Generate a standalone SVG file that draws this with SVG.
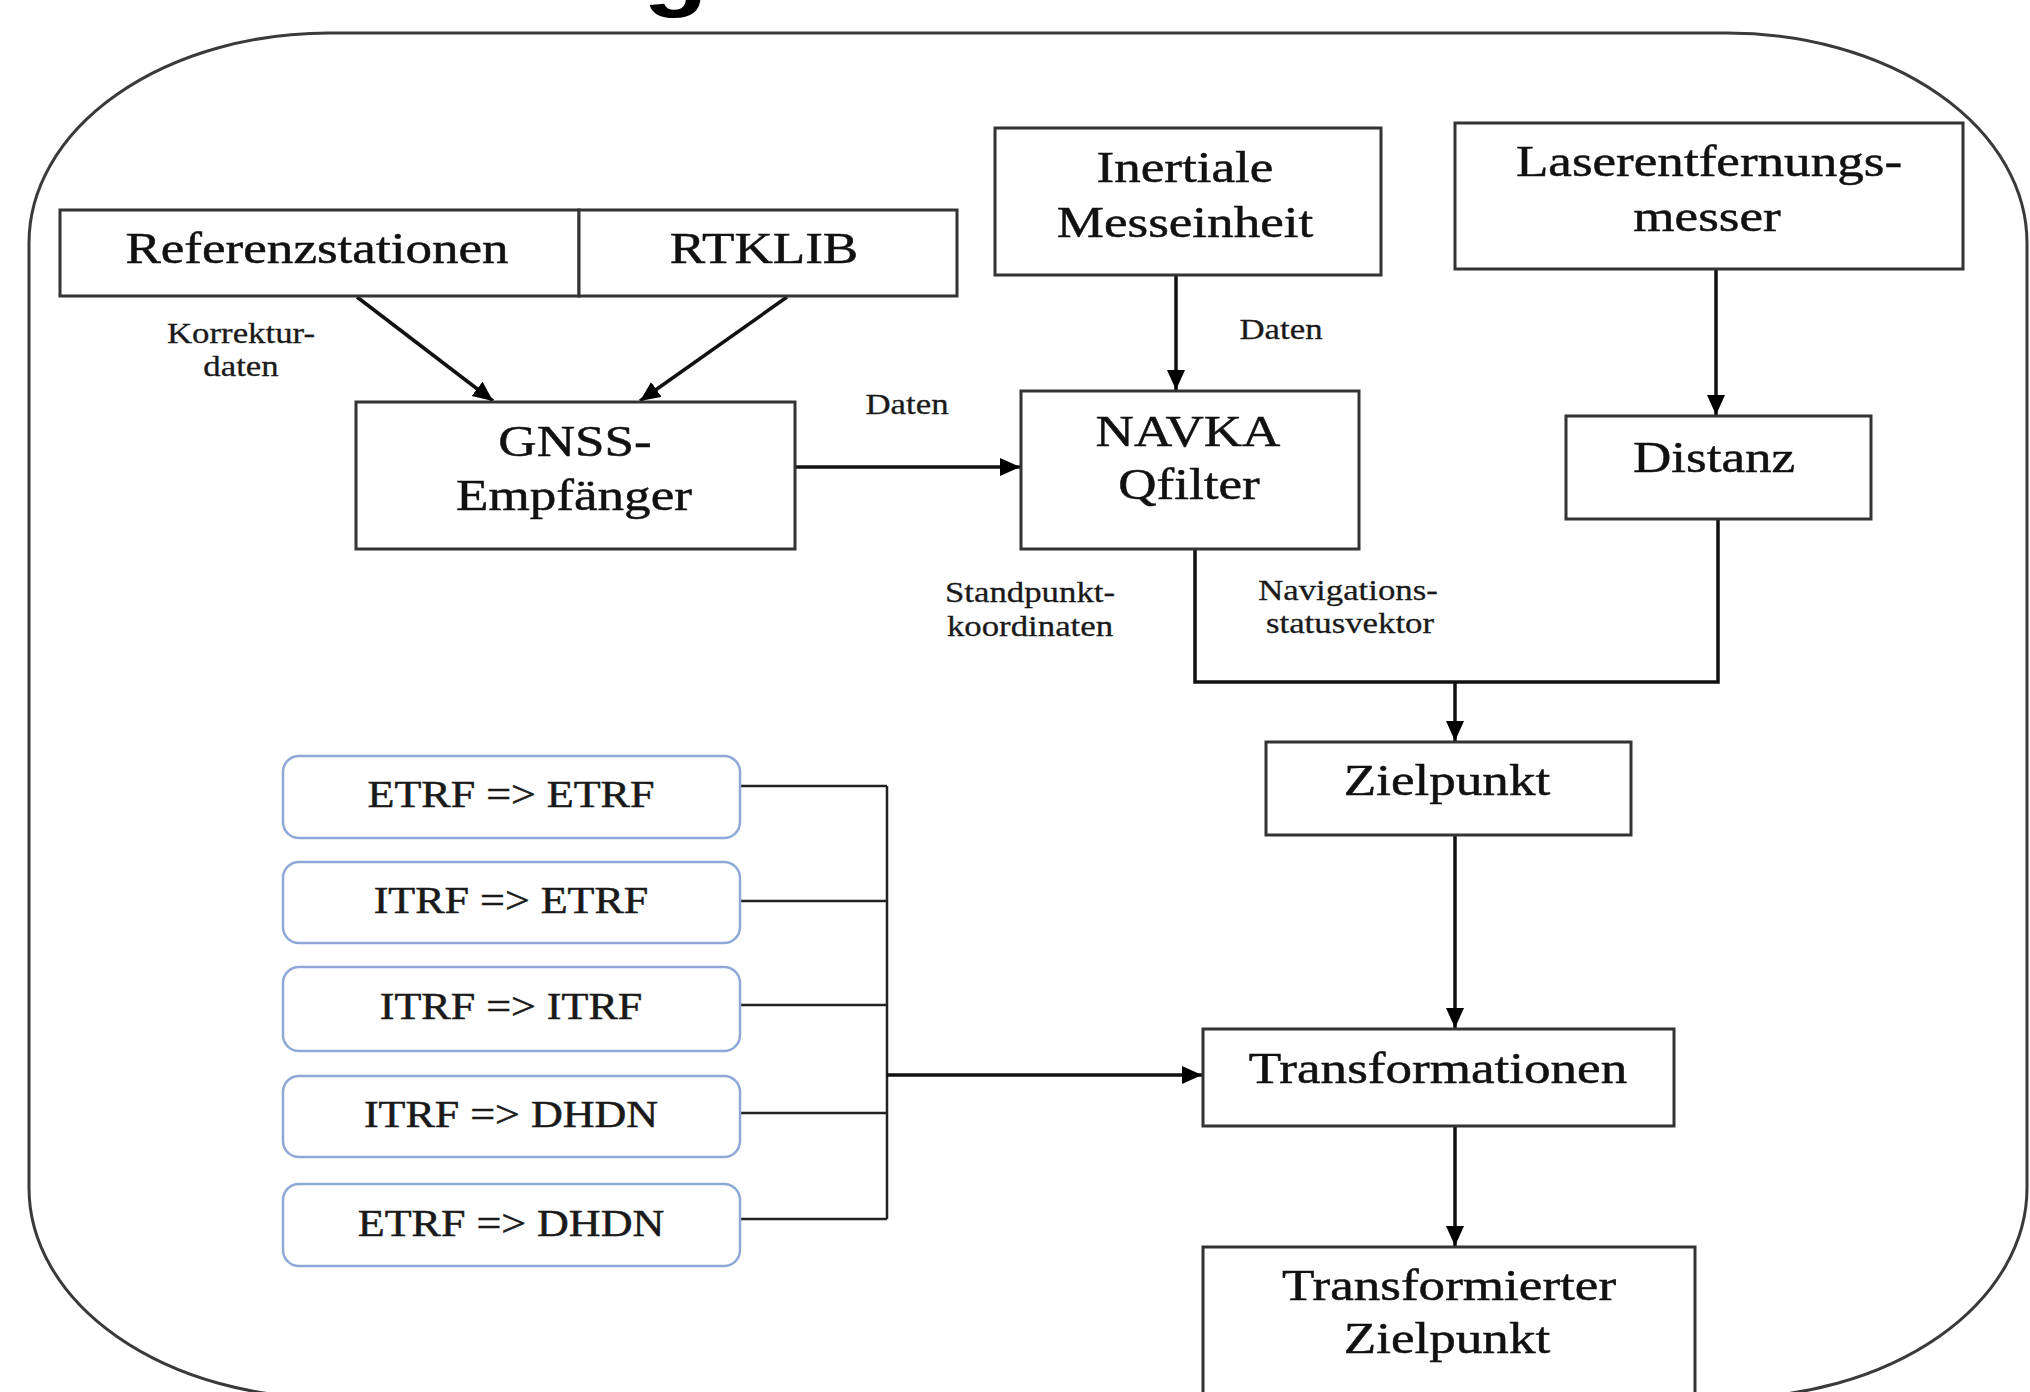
<svg xmlns="http://www.w3.org/2000/svg" width="2030" height="1392" viewBox="0 0 2030 1392">
<style>
.bx{fill:#fff;stroke:#333;stroke-width:3}
.bb{fill:#fff;stroke:#8ea9d8;stroke-width:2.5}
.t{font-family:"Liberation Serif","Times New Roman",serif;font-size:45px;fill:#111;stroke:#111;stroke-width:0.5;text-anchor:middle}
.tb{font-family:"Liberation Serif","Times New Roman",serif;font-size:37px;fill:#1a1a1a;stroke:#1a1a1a;stroke-width:0.5;text-anchor:middle}
.ts{font-family:"Liberation Serif","Times New Roman",serif;font-size:30px;fill:#1a1a1a;stroke:#1a1a1a;stroke-width:0.3;text-anchor:middle}
.c{fill:none;stroke:#111;stroke-width:3.5}
.cl{fill:none;stroke:#222;stroke-width:2.5}
</style>
<defs>
<marker id="ah" markerUnits="userSpaceOnUse" markerWidth="22" markerHeight="20" refX="20" refY="9" orient="auto">
<path d="M0,0 L20,9 L0,18 z" fill="#000"/>
</marker>
</defs>
<rect width="2030" height="1392" fill="#fff"/>
<text x="0" y="0" transform="translate(643,-1) scale(1.18,1)" style="font-family:'Liberation Sans',Arial,sans-serif;font-weight:bold;font-size:90px;fill:#000">g</text>
<rect x="29" y="33" width="1998" height="1365" rx="300" ry="210" fill="none" stroke="#3a3a3a" stroke-width="3"/>

<g id="connectors">
<line class="c" x1="357" y1="297" x2="493" y2="401" marker-end="url(#ah)"/>
<line class="c" x1="787" y1="297" x2="640" y2="401" marker-end="url(#ah)"/>
<line class="c" x1="795" y1="467" x2="1020" y2="467" marker-end="url(#ah)"/>
<line class="c" x1="1176" y1="275" x2="1176" y2="390" marker-end="url(#ah)"/>
<line class="c" x1="1716" y1="269" x2="1716" y2="415" marker-end="url(#ah)"/>
<polyline class="c" points="1195,549 1195,682 1718,682 1718,519"/>
<line class="c" x1="1455" y1="682" x2="1455" y2="741" marker-end="url(#ah)"/>
<line class="c" x1="1455" y1="835" x2="1455" y2="1028" marker-end="url(#ah)"/>
<line class="c" x1="1455" y1="1126" x2="1455" y2="1246" marker-end="url(#ah)"/>
<line class="cl" x1="740" y1="786" x2="887" y2="786"/>
<line class="cl" x1="740" y1="901" x2="887" y2="901"/>
<line class="cl" x1="740" y1="1005" x2="887" y2="1005"/>
<line class="cl" x1="740" y1="1113" x2="887" y2="1113"/>
<line class="cl" x1="740" y1="1219" x2="887" y2="1219"/>
<line class="cl" x1="887" y1="786" x2="887" y2="1219"/>
<line class="c" x1="887" y1="1075" x2="1202" y2="1075" marker-end="url(#ah)"/>
<text class="ts" transform="translate(241,343) scale(1.16,1)">Korrektur-</text>
<text class="ts" transform="translate(241,376) scale(1.16,1)">daten</text>
<text class="ts" transform="translate(907,414) scale(1.16,1)">Daten</text>
<text class="ts" transform="translate(1281,339) scale(1.16,1)">Daten</text>
<text class="ts" transform="translate(1030,602) scale(1.16,1)">Standpunkt-</text>
<text class="ts" transform="translate(1030,636) scale(1.16,1)">koordinaten</text>
<text class="ts" transform="translate(1348,600) scale(1.16,1)">Navigations-</text>
<text class="ts" transform="translate(1350,633) scale(1.16,1)">statusvektor</text>
</g>

<g id="referenzstationen">
<rect class="bx" x="60" y="210" width="519" height="86"/>
<text class="t" transform="translate(317,263) scale(1.18,1)">Referenzstationen</text>
</g>
<g id="rtklib">
<rect class="bx" x="579" y="210" width="378" height="86"/>
<text class="t" transform="translate(764,263) scale(1.18,1)">RTKLIB</text>
</g>
<g id="inertiale">
<rect class="bx" x="995" y="128" width="386" height="147"/>
<text class="t" transform="translate(1185,182) scale(1.18,1)">Inertiale</text>
<text class="t" transform="translate(1185,237) scale(1.18,1)">Messeinheit</text>
</g>
<g id="laser">
<rect class="bx" x="1455" y="123" width="508" height="146"/>
<text class="t" transform="translate(1709,176) scale(1.18,1)">Laserentfernungs-</text>
<text class="t" transform="translate(1707,231) scale(1.18,1)">messer</text>
</g>
<g id="gnss">
<rect class="bx" x="356" y="402" width="439" height="147"/>
<text class="t" transform="translate(575,456) scale(1.18,1)">GNSS-</text>
<text class="t" transform="translate(574,510) scale(1.18,1)">Empfänger</text>
</g>
<g id="navka">
<rect class="bx" x="1021" y="391" width="338" height="158"/>
<text class="t" transform="translate(1188,446) scale(1.18,1)">NAVKA</text>
<text class="t" transform="translate(1189,499) scale(1.18,1)">Qfilter</text>
</g>
<g id="distanz">
<rect class="bx" x="1566" y="416" width="305" height="103"/>
<text class="t" transform="translate(1714,472) scale(1.18,1)">Distanz</text>
</g>
<g id="zielpunkt">
<rect class="bx" x="1266" y="742" width="365" height="93"/>
<text class="t" transform="translate(1447,795) scale(1.18,1)">Zielpunkt</text>
</g>
<g id="transformationen">
<rect class="bx" x="1203" y="1029" width="471" height="97"/>
<text class="t" transform="translate(1438,1083) scale(1.18,1)">Transformationen</text>
</g>
<g id="transformierter">
<rect class="bx" x="1203" y="1247" width="492" height="180"/>
<text class="t" transform="translate(1449,1300) scale(1.18,1)">Transformierter</text>
<text class="t" transform="translate(1447,1353) scale(1.18,1)">Zielpunkt</text>
</g>
<g id="etrf-etrf">
<rect class="bb" x="283" y="756" width="457" height="82" rx="16"/>
<text class="tb" transform="translate(511,807) scale(1.19,1)">ETRF =&gt; ETRF</text>
</g>
<g id="itrf-etrf">
<rect class="bb" x="283" y="862" width="457" height="81" rx="16"/>
<text class="tb" transform="translate(511,913) scale(1.19,1)">ITRF =&gt; ETRF</text>
</g>
<g id="itrf-itrf">
<rect class="bb" x="283" y="967" width="457" height="84" rx="16"/>
<text class="tb" transform="translate(511,1019) scale(1.19,1)">ITRF =&gt; ITRF</text>
</g>
<g id="itrf-dhdn">
<rect class="bb" x="283" y="1076" width="457" height="81" rx="16"/>
<text class="tb" transform="translate(511,1127) scale(1.19,1)">ITRF =&gt; DHDN</text>
</g>
<g id="etrf-dhdn">
<rect class="bb" x="283" y="1184" width="457" height="82" rx="16"/>
<text class="tb" transform="translate(511,1236) scale(1.19,1)">ETRF =&gt; DHDN</text>
</g>
</svg>
